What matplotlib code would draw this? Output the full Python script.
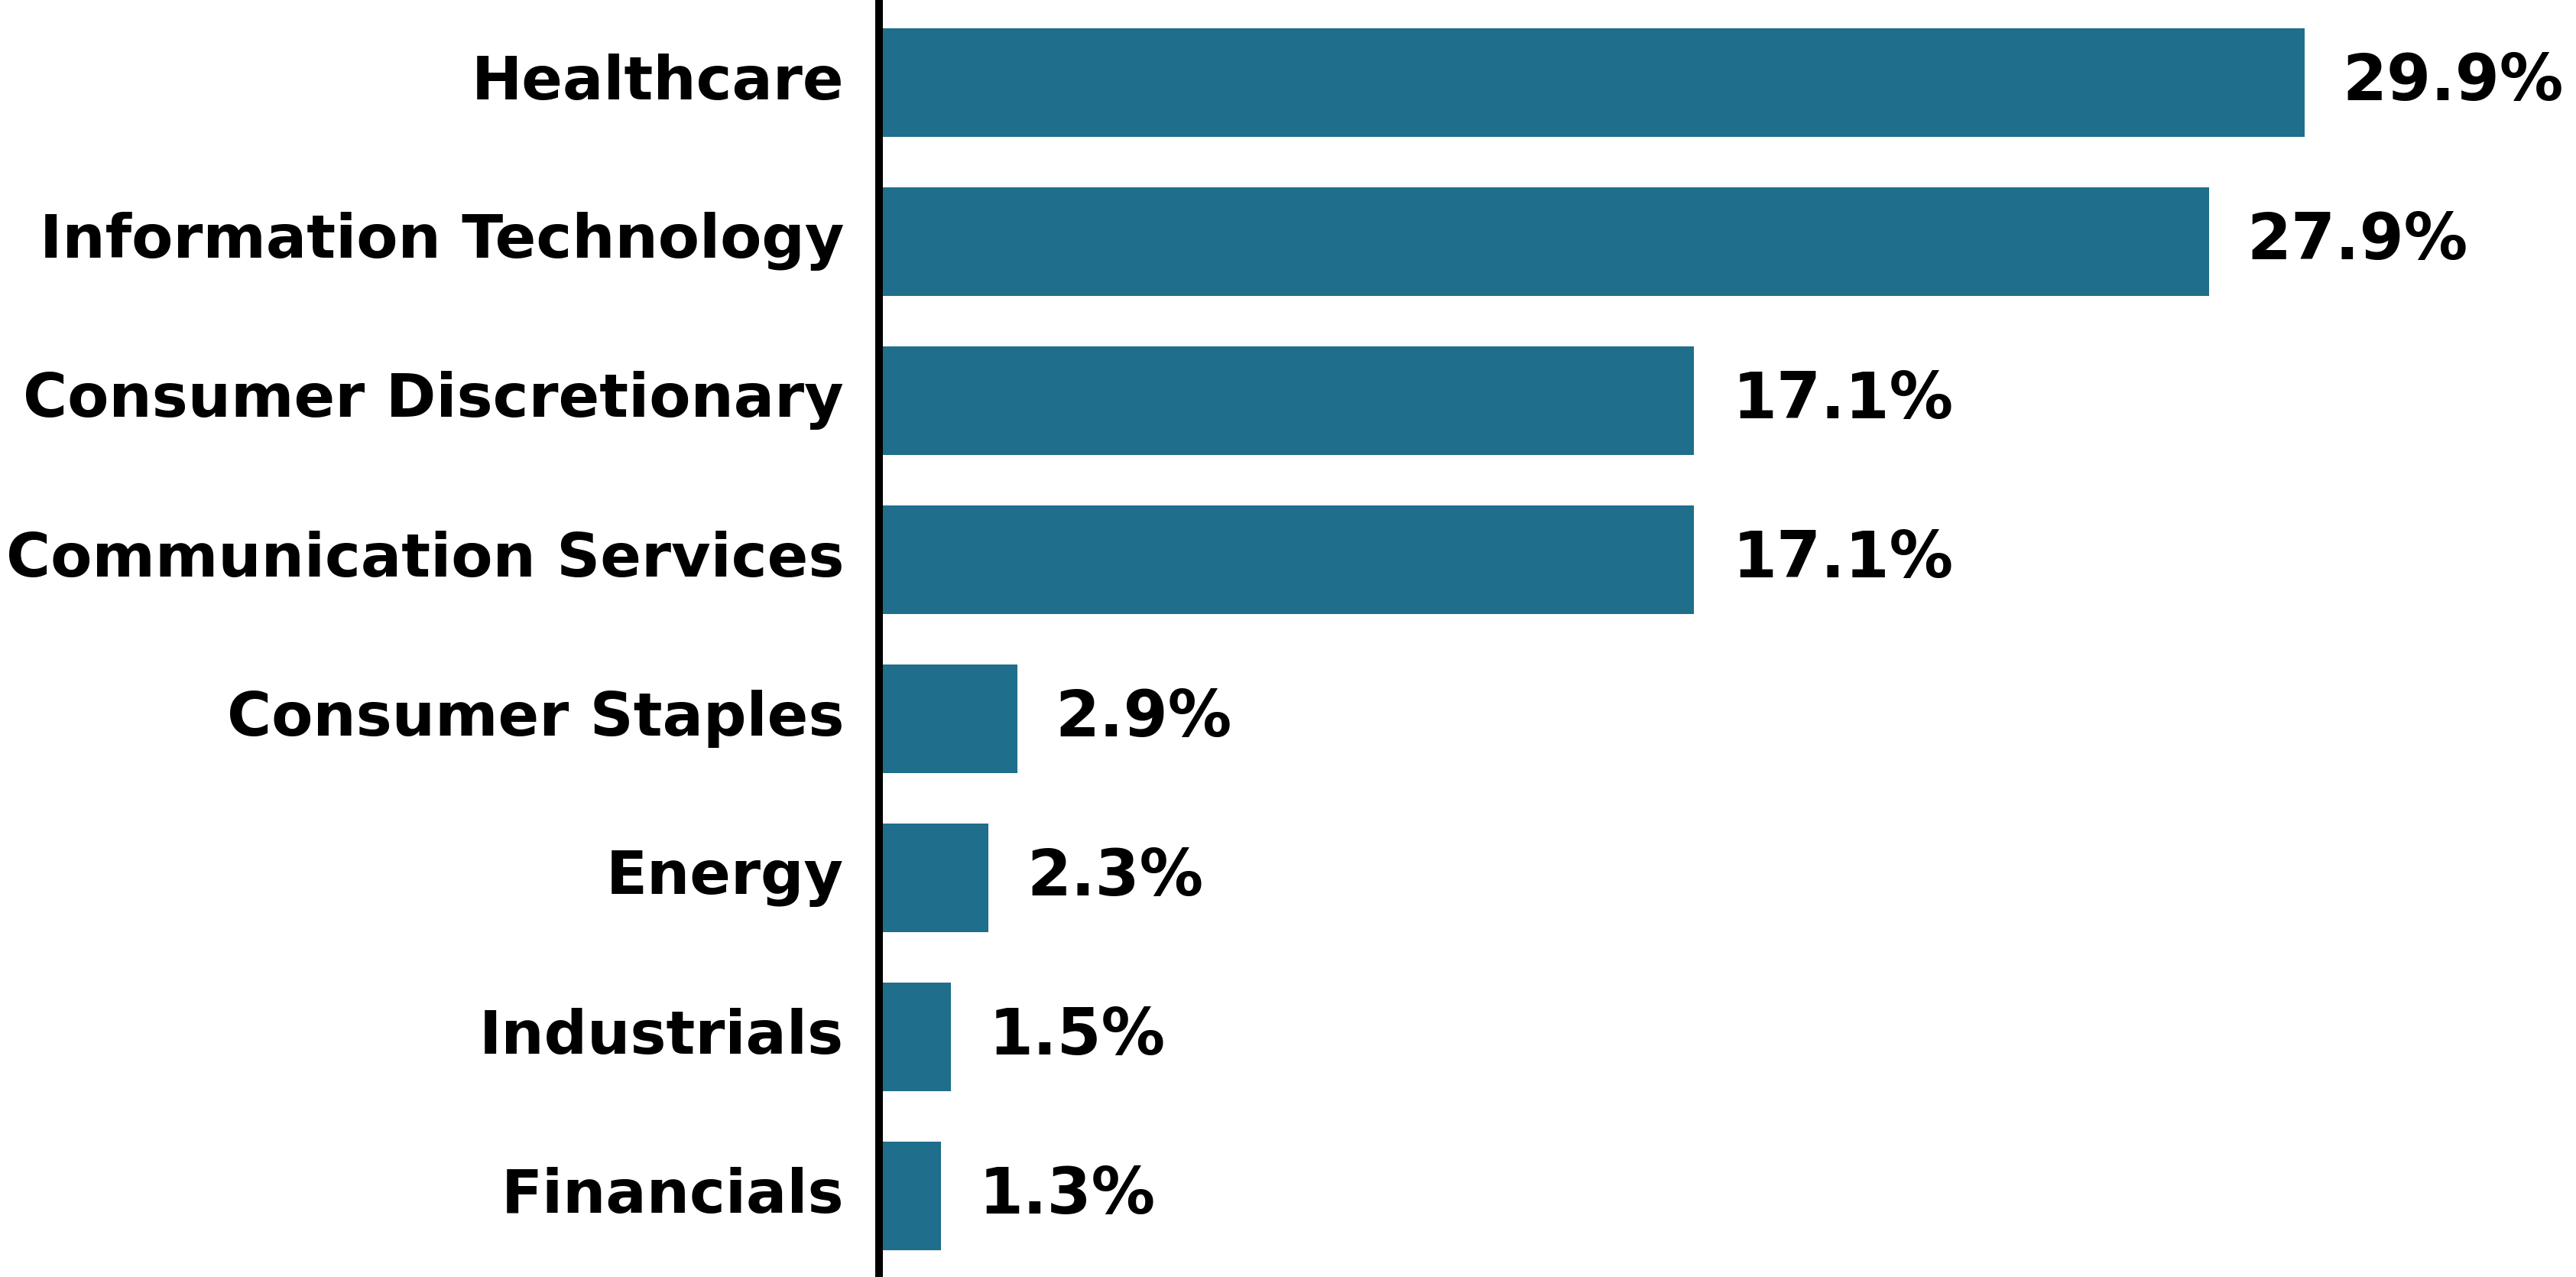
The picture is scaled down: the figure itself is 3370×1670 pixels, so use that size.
import matplotlib.pyplot as plt

sectors = ['Healthcare', 'Information Technology', 'Consumer Discretionary',
           'Communication Services', 'Consumer Staples', 'Energy',
           'Industrials', 'Financials']
weights = [29.9, 27.9, 17.1, 17.1, 2.9, 2.3, 1.5, 1.3]
bar_color = '#1f6e8b'

plt.rcParams['font.family'] = 'DejaVu Sans'
plt.rcParams['font.weight'] = 'bold'

fig = plt.figure(figsize=(33.7, 16.7), dpi=100)
ax = fig.add_axes([1150 / 3370, 2 / 1670, 1 - 1150 / 3370, 1664 / 1670])

ypos = list(range(len(sectors)))
bars = ax.barh(ypos, weights, height=0.68, color=bar_color)

# value labels to the right of each bar
for b, w in zip(bars, weights):
    ax.annotate(f'{w:.1f}%', xy=(b.get_width(), b.get_y() + b.get_height() / 2),
                xytext=(36, 0), textcoords='offset points',
                ha='left', va='center', fontsize=60, fontweight='bold')

ax.set_yticks(ypos)
ax.set_yticklabels(sectors, fontsize=57, fontweight='bold')
for lbl in ax.get_yticklabels():
    lbl.set_va('center')
ax.tick_params(axis='y', length=0, pad=33)
ax.set_xticks([])
ax.set_xlim(0, 35.6)
ax.set_ylim(7.5, -0.5)

for s in ['top', 'right', 'bottom']:
    ax.spines[s].set_visible(False)
ax.spines['left'].set_linewidth(7.2)
ax.spines['left'].set_color('black')

fig.savefig('out.png', dpi=100)
